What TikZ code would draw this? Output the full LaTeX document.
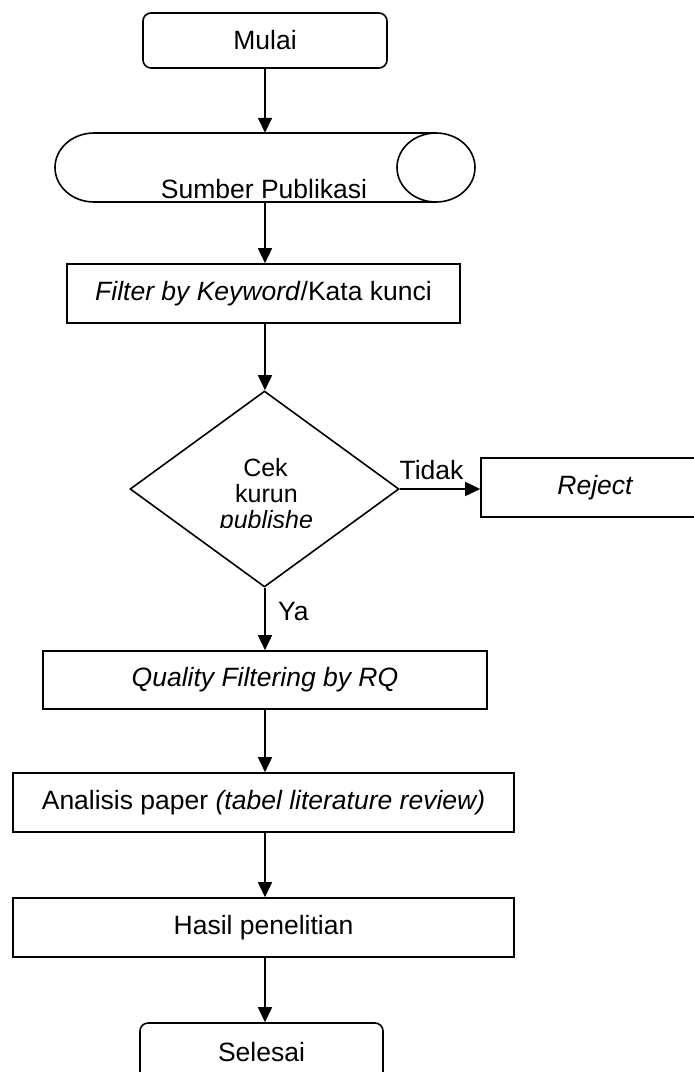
\documentclass[tikz,border=0pt]{standalone}
\usepackage{fontspec}
\setmainfont{Liberation Sans}
\usetikzlibrary{arrows.meta,shapes.geometric}
\tikzset{
  box/.style={draw, rectangle, line width=1.6pt, inner sep=0pt},
  rbox/.style={box, rounded corners=8pt},
  arr/.style={line width=1.6pt, -{Triangle[length=15pt,width=14pt]}},
  lbl/.style={inner sep=0pt, font=\fontsize{26.5}{30}\selectfont},
  dlbl/.style={inner sep=0pt, anchor=base, font=\fontsize{25}{28}\selectfont},
}
\begin{document}
\begin{tikzpicture}[x=1pt,y=-1pt]
\useasboundingbox (0,0) rectangle (694,1072);
\clip (0,0) rectangle (694,1072);
\coordinate (col) at (265,0);
% Mulai
\node[rbox, minimum width=244pt, minimum height=55pt, lbl] (mulai) at (265,40.5) {Mulai};
% Sumber Publikasi (stored data shape)
\node[inner sep=0pt, minimum width=420pt, minimum height=69pt] (src) at (265,167.5) {};
\draw[line width=1.6pt] (436,133) -- (94,133) arc[start angle=90, end angle=270, x radius=39pt, y radius=34.5pt] -- (436,202);
\draw[line width=1.6pt] (436,167.5) ellipse[x radius=39pt, y radius=34.5pt];
\node[lbl, anchor=base] (srctext) at (264,198) {Sumber Publikasi};
% Filter
\node[box, minimum width=393pt, minimum height=59pt, lbl] (filter) at (263.5,293.5) {\textit{Filter by Keyword}/Kata kunci};
% Decision
\node[draw, diamond, line width=1.6pt, minimum width=269pt, minimum height=196pt, inner sep=0pt] (dec) at (264.5,489) {};
\node[dlbl] (d1) at (265.5,476) {Cek};
\node[dlbl] (d2) at (266.5,502) {kurun};
\begin{scope}
\clip (200,505) rectangle (330,527.5);
\node[dlbl] (d3) at (266.5,528) {\textit{publishe}};
\end{scope}
% Reject
\node[box, minimum width=229pt, minimum height=59pt, lbl] (reject) at (595.5,487.5) {\textit{Reject}};
% Quality
\node[box, minimum width=444pt, minimum height=58pt, lbl] (quality) at (265,680) {\textit{Quality Filtering by RQ}};
% Analisis
\node[box, minimum width=501pt, minimum height=59pt, lbl] (analisis) at (263.5,802.5) {Analisis paper \textit{(tabel literature review)}};
% Hasil
\node[box, minimum width=501pt, minimum height=59pt, lbl] (hasil) at (263.5,927.5) {Hasil penelitian};
% Selesai
\node[rbox, minimum width=243pt, minimum height=58pt, lbl] (selesai) at (261.5,1052) {Selesai};
% Connectors
\draw[arr] (mulai.south -| col) -- (src.north -| col);
\draw[arr] (src.south -| col) -- (filter.north -| col);
\draw[arr] (filter.south -| col) -- (dec.north -| col);
\draw[arr] (dec.south -| col) -- (quality.north -| col);
\draw[arr] (quality.south -| col) -- (analisis.north -| col);
\draw[arr] (analisis.south -| col) -- (hasil.north -| col);
\draw[arr] (hasil.south -| col) -- (selesai.north -| col);
\draw[arr] (dec.east) -- (dec.east -| reject.west);
\node[lbl, anchor=base] (tidak) at (431.5,479.5) {Tidak};
\node[lbl, anchor=base west] (ya) at (278,620) {Ya};
\end{tikzpicture}
\end{document}
